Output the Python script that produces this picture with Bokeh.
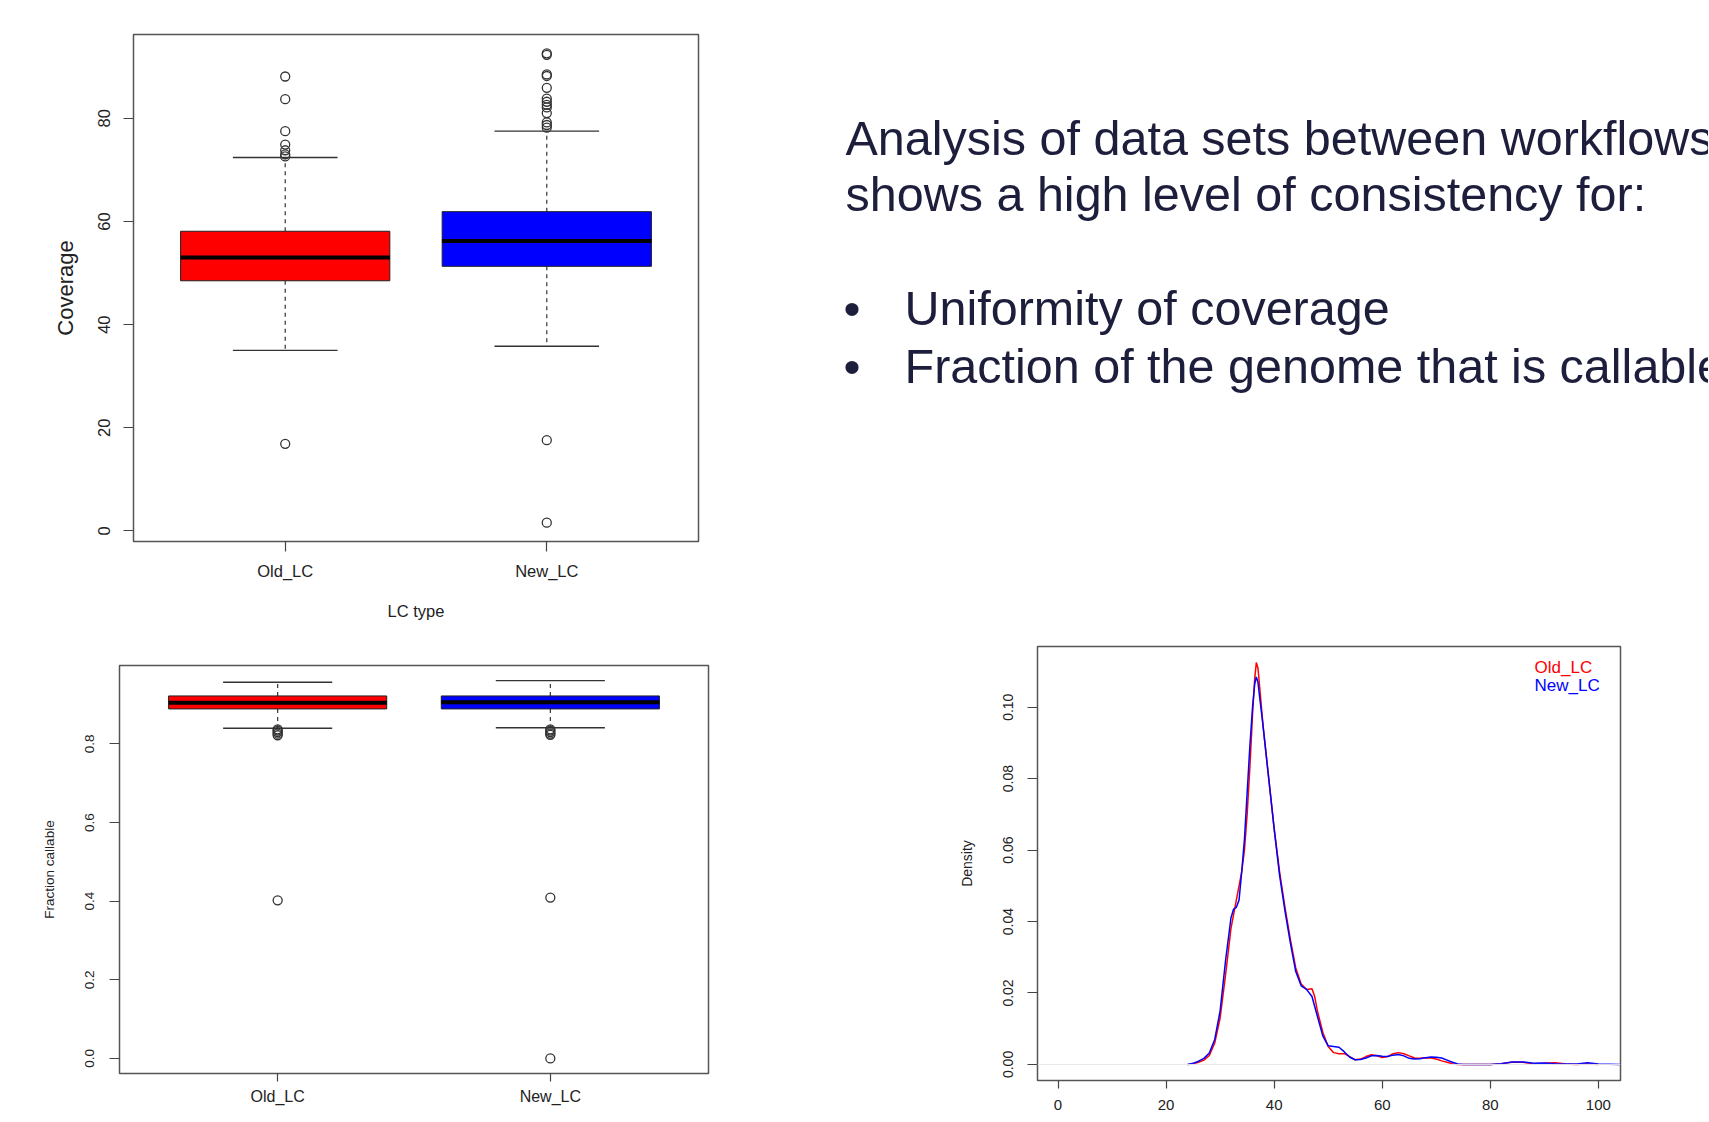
from bokeh.plotting import figure
from bokeh.models import Range1d, FixedTicker, Label, Span, ColumnDataSource, NumeralTickFormatter
from bokeh.layouts import row, column
from bokeh.embed import file_html
from bokeh.resources import INLINE

# ---------------- data ----------------
categories = ["Old_LC", "New_LC"]
box_colors = ["#ff0000", "#0000ff"]

# Coverage boxplot (top left)
cov_q1 = [48.5, 51.3]
cov_med = [53.0, 56.2]
cov_q3 = [58.1, 61.9]
cov_lo = [35.0, 35.8]
cov_hi = [72.4, 77.5]
cov_out_old = [88.1, 83.7, 77.5, 74.9, 73.8, 73.0, 72.6, 16.9]
cov_out_new = [92.6, 92.3, 88.5, 88.2, 85.9, 83.8, 83.2, 82.6, 82.1, 81.0, 79.2, 78.7, 78.2, 17.6, 1.6]
cov_ticks = [0, 20, 40, 60, 80]

# Fraction callable boxplot (bottom left)
frac_q1 = [0.889, 0.889]
frac_med = [0.905, 0.906]
frac_q3 = [0.922, 0.922]
frac_lo = [0.840, 0.841]
frac_hi = [0.957, 0.961]
frac_out_old = [0.837, 0.834, 0.830, 0.826, 0.822, 0.402]
frac_out_new = [0.837, 0.834, 0.830, 0.826, 0.823, 0.409, 0.0]
frac_ticks = [0.0, 0.2, 0.4, 0.6, 0.8]

# Density curves (bottom right)
dens_x_old = [24, 25, 26, 27, 28, 29, 30, 31, 32, 33, 34, 34.5, 35, 35.5, 36, 36.4, 36.7, 37, 37.3, 37.7,
              38, 38.5, 39, 40, 41, 42, 43, 44, 45, 46, 47, 47.5, 48, 49, 50, 51, 52, 53, 54, 55, 56,
              57, 58, 59, 60, 61, 62, 63, 64, 65, 66, 67, 68, 69, 70, 71, 72, 73, 74, 80, 82, 84, 86,
              88, 90, 92, 94, 96, 98, 100]
dens_y_old = [0.0, 0.0002, 0.0006, 0.0012, 0.0025, 0.006, 0.013, 0.025, 0.038, 0.046, 0.054, 0.060,
              0.070, 0.083, 0.098, 0.108, 0.1125, 0.111, 0.106, 0.099, 0.094, 0.087, 0.080, 0.066,
              0.054, 0.044, 0.035, 0.027, 0.0225, 0.021, 0.0212, 0.019, 0.015, 0.009, 0.005, 0.0033,
              0.003, 0.003, 0.0022, 0.0013, 0.0015, 0.0022, 0.0027, 0.0024, 0.0019, 0.0022, 0.003,
              0.0033, 0.003, 0.0024, 0.0018, 0.0017, 0.0019, 0.0018, 0.0015, 0.001, 0.0006, 0.0002,
              0.0, 0.0, 0.0002, 0.0006, 0.0006, 0.0002, 0.0003, 0.0005, 0.0001, 0.0, 0.0002, 0.0]
dens_x_new = [24, 25, 26, 27, 28, 29, 30, 31, 32, 32.5, 33, 33.5, 34, 34.5, 35, 35.5, 36, 36.4, 36.7,
              37, 37.3, 37.7, 38, 38.5, 39, 40, 41, 42, 43, 44, 45, 46, 47, 48, 49, 50, 51, 52, 53,
              54, 55, 56, 57, 58, 59, 60, 61, 62, 63, 64, 65, 66, 67, 68, 69, 70, 71, 72, 73, 74, 75,
              80, 82, 84, 86, 88, 90, 92, 94, 96, 98, 100, 104]
dens_y_new = [0.0, 0.0003, 0.0009, 0.0017, 0.0032, 0.007, 0.015, 0.029, 0.041, 0.0435, 0.044, 0.046,
              0.054, 0.063, 0.076, 0.089, 0.100, 0.1065, 0.1085, 0.107, 0.103, 0.098, 0.094, 0.087,
              0.080, 0.066, 0.053, 0.043, 0.034, 0.026, 0.022, 0.021, 0.019, 0.0135, 0.008, 0.0052,
              0.005, 0.0048, 0.0035, 0.002, 0.0013, 0.0014, 0.0018, 0.0024, 0.0025, 0.0023, 0.0022,
              0.0026, 0.0028, 0.0024, 0.0017, 0.0015, 0.0016, 0.0019, 0.0021, 0.002, 0.0018, 0.0012,
              0.0006, 0.0001, 0.0, 0.0, 0.0002, 0.0007, 0.0007, 0.0003, 0.0004, 0.0002, 0.0001,
              0.0001, 0.0005, 0.0001, 0.0]
dens_xticks = [0, 20, 40, 60, 80, 100]
dens_yticks = [0.0, 0.02, 0.04, 0.06, 0.08, 0.10]

# Slide text
slide_heading = ["Analysis of data sets between workflows", "shows a high level of consistency for:"]
slide_bullets = ["Uniformity of coverage", "Fraction of the genome that is callable"]

FONT = "Liberation Sans"
FRAME = "#555555"
TXT = "#222222"
SLIDE_TXT = "#1d1e3b"

LEFT_W, RIGHT_W = 740, 968
TOP_H_L, BOT_H_L = 627, 493
TOP_H_R, BOT_H_R = 617, 503


def base_style(p):
    p.xgrid.visible = False
    p.ygrid.visible = False
    p.outline_line_color = FRAME
    p.outline_line_width = 1.5
    p.background_fill_color = "white"
    p.border_fill_color = "white"
    for ax in (p.xaxis, p.yaxis):
        ax.axis_line_color = None
        ax.major_tick_line_color = "#444444"
        ax.major_tick_line_width = 1.2
        ax.major_tick_in = 0
        ax.minor_tick_line_color = None
        ax.major_label_text_font = FONT
        ax.major_label_text_color = TXT
        ax.axis_label_text_font = FONT
        ax.axis_label_text_font_style = "normal"
        ax.axis_label_text_color = TXT
    p.yaxis.major_label_orientation = "vertical"


def draw_box(p, q1, med, q3, lo, hi, out_old, out_new):
    pos = [i + 1 for i in range(len(categories))]
    bw = 0.8
    src = ColumnDataSource(dict(
        x=pos, q1=q1, med=med, q3=q3, lo=lo, hi=hi, color=box_colors,
        left=[x - bw / 2 for x in pos], right=[x + bw / 2 for x in pos],
        sl=[x - bw / 4 for x in pos], sr=[x + bw / 4 for x in pos],
    ))
    p.segment(x0="x", x1="x", y0="q3", y1="hi", source=src, line_color="#333333",
              line_width=1.2, line_dash="4 4")
    p.segment(x0="x", x1="x", y0="q1", y1="lo", source=src, line_color="#333333",
              line_width=1.2, line_dash="4 4")
    p.segment(x0="sl", x1="sr", y0="hi", y1="hi", source=src, line_color="#333333", line_width=1.4)
    p.segment(x0="sl", x1="sr", y0="lo", y1="lo", source=src, line_color="#333333", line_width=1.4)
    p.quad(left="left", right="right", bottom="q1", top="q3", source=src,
           fill_color="color", line_color="#222222", line_width=1)
    p.segment(x0="left", x1="right", y0="med", y1="med", source=src, line_color="black",
              line_width=4, line_cap="butt")
    ox = [pos[0]] * len(out_old) + [pos[1]] * len(out_new)
    oy = list(out_old) + list(out_new)
    p.scatter(ox, oy, marker="circle", size=9, fill_color=None, line_color="#333333", line_width=1.3)
    p.xaxis.ticker = FixedTicker(ticks=pos)
    p.xaxis.major_label_overrides = {x: c for x, c in zip(pos, categories)}


# ---------------- top left: Coverage ----------------
cov_min = min(cov_out_new + cov_out_old)
cov_max = max(cov_out_new + cov_out_old)
pad = 0.04 * (cov_max - cov_min)
p1 = figure(width=LEFT_W, height=TOP_H_L, output_backend="svg", toolbar_location=None,
            x_range=Range1d(0.42, 2.58), y_range=Range1d(cov_min - pad, cov_max + pad),
            min_border_left=133, min_border_right=42, min_border_top=34, min_border_bottom=86,
            frame_align=False)
base_style(p1)
draw_box(p1, cov_q1, cov_med, cov_q3, cov_lo, cov_hi, cov_out_old, cov_out_new)
p1.yaxis.ticker = FixedTicker(ticks=cov_ticks)
p1.yaxis.axis_label = "Coverage"
p1.xaxis.axis_label = "LC type"
p1.yaxis.major_label_text_font_size = "16.5px"
p1.xaxis.major_label_text_font_size = "16.5px"
p1.yaxis.axis_label_text_font_size = "22px"
p1.xaxis.axis_label_text_font_size = "16.5px"
p1.yaxis.major_tick_out = 10
p1.xaxis.major_tick_out = 10
p1.yaxis.major_label_standoff = 13
p1.xaxis.major_label_standoff = 10
p1.yaxis.axis_label_standoff = 18
p1.xaxis.axis_label_standoff = 19

# ---------------- bottom left: Fraction callable ----------------
fr_min = min(frac_out_new + frac_out_old)
fr_max = max(frac_hi)
fpad = 0.04 * (fr_max - fr_min)
p2 = figure(width=LEFT_W, height=BOT_H_L, output_backend="svg", toolbar_location=None,
            x_range=Range1d(0.42, 2.58), y_range=Range1d(fr_min - fpad, fr_max + fpad),
            min_border_left=119, min_border_right=32, min_border_top=38, min_border_bottom=47,
            frame_align=False)
base_style(p2)
draw_box(p2, frac_q1, frac_med, frac_q3, frac_lo, frac_hi, frac_out_old, frac_out_new)
p2.yaxis.ticker = FixedTicker(ticks=frac_ticks)
p2.yaxis.formatter = NumeralTickFormatter(format="0.0")
p2.yaxis.axis_label = "Fraction callable"
p2.yaxis.major_label_text_font_size = "13.5px"
p2.xaxis.major_label_text_font_size = "16px"
p2.yaxis.axis_label_text_font_size = "13.5px"
p2.yaxis.major_tick_out = 10
p2.xaxis.major_tick_out = 8
p2.yaxis.major_label_standoff = 15
p2.xaxis.major_label_standoff = 6
p2.yaxis.axis_label_standoff = 26

# ---------------- right top: slide text ----------------
pt = figure(width=RIGHT_W, height=TOP_H_R, output_backend="svg", toolbar_location=None,
            x_range=Range1d(0, RIGHT_W), y_range=Range1d(TOP_H_R, 0),
            x_axis_location=None, y_axis_location=None, min_border=0, frame_align=False)
pt.grid.visible = False
pt.outline_line_color = None
pt.background_fill_color = "white"
pt.border_fill_color = "white"
for i, t in enumerate(slide_heading):
    pt.add_layout(Label(x=105, y=137 + 56 * i, text=t, text_font=FONT, text_font_size="48.5px",
                        text_color=SLIDE_TXT, text_baseline="alphabetic"))
for i, t in enumerate(slide_bullets):
    yb = 307 + 58 * i
    pt.add_layout(Label(x=103, y=yb, text="\u2022", text_font=FONT, text_font_size="48.5px",
                        text_color=SLIDE_TXT, text_baseline="alphabetic"))
    pt.add_layout(Label(x=164, y=yb, text=t, text_font=FONT, text_font_size="48.5px",
                        text_color=SLIDE_TXT, text_baseline="alphabetic"))

# ---------------- right bottom: density ----------------
d_max = max(dens_y_old + dens_y_new)
p3 = figure(width=RIGHT_W, height=BOT_H_R, output_backend="svg", toolbar_location=None,
            x_range=Range1d(-3.8, 104.1), y_range=Range1d(-0.04 * d_max, 1.04 * d_max),
            min_border_left=297, min_border_right=88, min_border_top=29, min_border_bottom=40,
            frame_align=False)
base_style(p3)
p3.add_layout(Span(location=0, dimension="width", line_color="#e8e8e8", line_width=1))
p3.line(dens_x_old, dens_y_old, line_color=box_colors[0], line_width=1.5)
p3.line(dens_x_new, dens_y_new, line_color=box_colors[1], line_width=1.5)
p3.xaxis.ticker = FixedTicker(ticks=dens_xticks)
p3.yaxis.ticker = FixedTicker(ticks=dens_yticks)
p3.yaxis.formatter = NumeralTickFormatter(format="0.00")
p3.yaxis.axis_label = "Density"
p3.yaxis.major_label_text_font_size = "14px"
p3.xaxis.major_label_text_font_size = "15px"
p3.yaxis.axis_label_text_font_size = "14px"
p3.yaxis.major_tick_out = 10
p3.xaxis.major_tick_out = 8
p3.yaxis.major_label_standoff = 14
p3.xaxis.major_label_standoff = 11
p3.yaxis.axis_label_standoff = 26
for i, (c, col) in enumerate(zip(categories, box_colors)):
    p3.add_layout(Label(x=88.2, y=0.1111 - 0.0049 * i, text=c, text_color=col, text_font=FONT,
                        text_font_size="17px", text_baseline="middle"))

layout = row(column(p1, p2), column(pt, p3))
open("out.html", "w").write(file_html(layout, INLINE))
